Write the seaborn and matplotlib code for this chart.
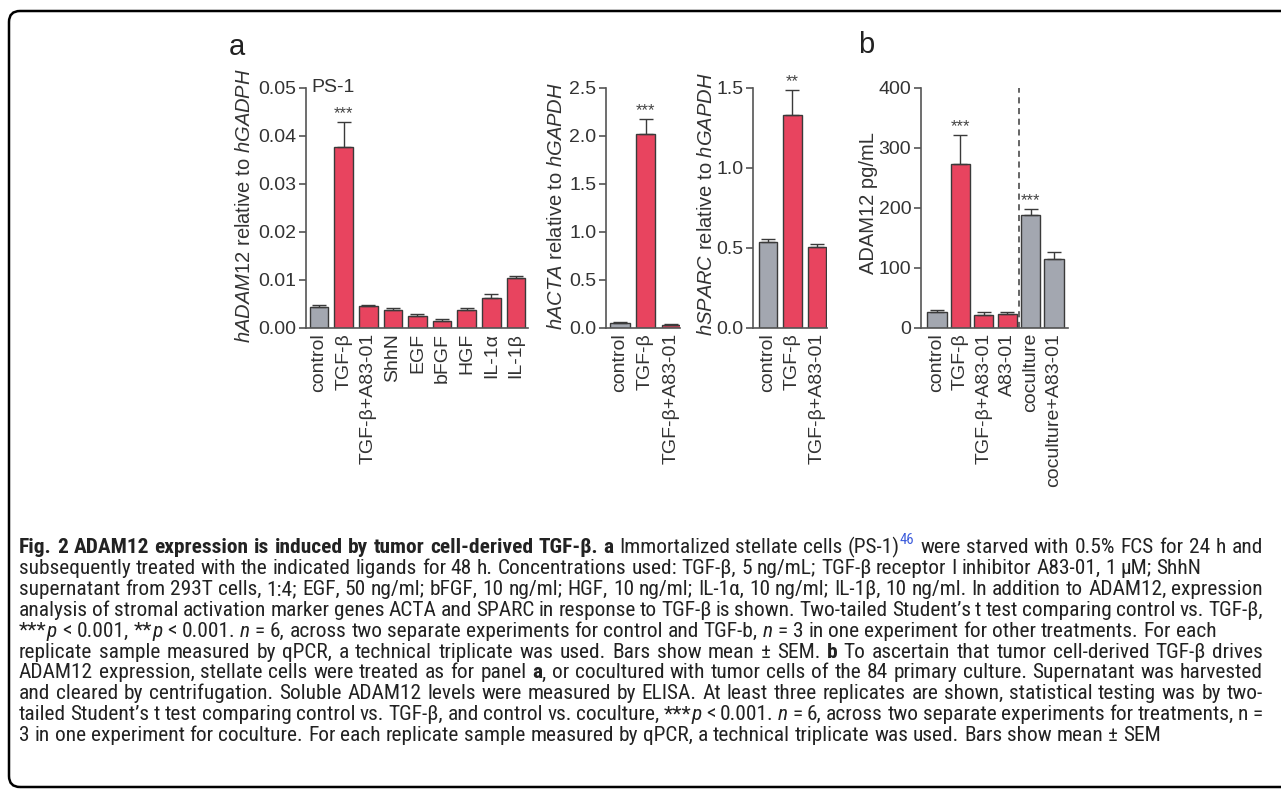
import numpy as np
import pandas as pd
import matplotlib
matplotlib.use("Agg")
import matplotlib.pyplot as plt
import seaborn as sns
from matplotlib.patches import FancyBboxPatch
from matplotlib.transforms import IdentityTransform
from matplotlib import font_manager

# ---------------- data ----------------
adam12_cats = ["control", "TGF-β", "TGF-β+A83-01", "ShhN", "EGF", "bFGF", "HGF", "IL-1α", "IL-1β"]
adam12_mean = [0.0042, 0.0377, 0.0044, 0.0036, 0.0023, 0.0013, 0.0036, 0.0062, 0.0103]
adam12_sem = [0.0004, 0.0052, 0.0003, 0.0004, 0.0005, 0.0004, 0.0004, 0.0008, 0.0004]
adam12_group = ["control", "treated", "treated", "treated", "treated", "treated", "treated", "treated", "treated"]
adam12_sig = ["", "***", "", "", "", "", "", "", ""]
adam12_ticks = [0.0, 0.01, 0.02, 0.03, 0.04, 0.05]
adam12_ticklabels = ["0.00", "0.01", "0.02", "0.03", "0.04", "0.05"]

acta_cats = ["control", "TGF-β", "TGF-β+A83-01"]
acta_mean = [0.05, 2.02, 0.028]
acta_sem = [0.008, 0.16, 0.005]
acta_group = ["control", "treated", "treated"]
acta_sig = ["", "***", ""]
acta_ticks = [0.0, 0.5, 1.0, 1.5, 2.0, 2.5]
acta_ticklabels = ["0.0", "0.5", "1.0", "1.5", "2.0", "2.5"]

sparc_cats = ["control", "TGF-β", "TGF-β+A83-01"]
sparc_mean = [0.538, 1.33, 0.502]
sparc_sem = [0.019, 0.16, 0.021]
sparc_group = ["control", "treated", "treated"]
sparc_sig = ["", "**", ""]
sparc_ticks = [0.0, 0.5, 1.0, 1.5]
sparc_ticklabels = ["0.0", "0.5", "1.0", "1.5"]

elisa_cats = ["control", "TGF-β", "TGF-β+A83-01", "A83-01", "coculture", "coculture+A83-01"]
elisa_mean = [25.6, 272.8, 21.0, 23.0, 188.6, 114.3]
elisa_sem = [4.0, 48.0, 5.5, 3.5, 10.0, 11.0]
elisa_group = ["control", "treated", "treated", "treated", "control", "control"]
elisa_sig = ["", "***", "", "", "***", ""]
elisa_ticks = [0, 100, 200, 300, 400]
elisa_ticklabels = ["0", "100", "200", "300", "400"]

caption_lines = [
    [("Fig. 2 ADAM12 expression is induced by tumor cell-derived TGF-β. a", "b"),
     (" Immortalized stellate cells (PS-1)", "r"), ("46", "sup"),
     (" were starved with 0.5% FCS for 24 h and", "r")],
    [("subsequently treated with the indicated ligands for 48 h. Concentrations used: TGF-β, 5 ng/mL; TGF-β receptor I inhibitor A83-01, 1 µM; ShhN", "r")],
    [("supernatant from 293T cells, 1:4; EGF, 50 ng/ml; bFGF, 10 ng/ml; HGF, 10 ng/ml; IL-1α, 10 ng/ml; IL-1β, 10 ng/ml. In addition to ADAM12, expression", "r")],
    [("analysis of stromal activation marker genes ACTA and SPARC in response to TGF-β is shown. Two-tailed Student’s t test comparing control vs. TGF-β,", "r")],
    [("***", "r"), ("p", "i"), (" < 0.001, **", "r"), ("p", "i"), (" < 0.001. ", "r"), ("n", "i"),
     (" = 6, across two separate experiments for control and TGF-b, ", "r"), ("n", "i"),
     (" = 3 in one experiment for other treatments. For each", "r")],
    [("replicate sample measured by qPCR, a technical triplicate was used. Bars show mean ± SEM. ", "r"), ("b", "b"),
     (" To ascertain that tumor cell-derived TGF-β drives", "r")],
    [("ADAM12 expression, stellate cells were treated as for panel ", "r"), ("a", "b"),
     (", or cocultured with tumor cells of the 84 primary culture. Supernatant was harvested", "r")],
    [("and cleared by centrifugation. Soluble ADAM12 levels were measured by ELISA. At least three replicates are shown, statistical testing was by two-", "r")],
    [("tailed Student’s t test comparing control vs. TGF-β, and control vs. coculture, ***", "r"), ("p", "i"),
     (" < 0.001. ", "r"), ("n", "i"), (" = 6, across two separate experiments for treatments, n =", "r")],
    [("3 in one experiment for coculture. For each replicate sample measured by qPCR, a technical triplicate was used. Bars show mean ± SEM", "r")],
]

# ---------------- style ----------------
W, H = 1281, 789
RED = "#E8445F"
GREY = "#A3A7B0"
EDGE = "#3a3a3a"
AX = "#555555"
TXT = "#333333"
palette = {"control": GREY, "treated": RED}

sns.set_style("white")
plt.rcParams["font.family"] = ["Liberation Sans", "DejaVu Sans"]
plt.rcParams["mathtext.fontset"] = "custom"
plt.rcParams["mathtext.rm"] = "Liberation Sans"
plt.rcParams["mathtext.it"] = "Liberation Sans:italic"
plt.rcParams["mathtext.bf"] = "Liberation Sans:bold"


def have_font(name):
    try:
        font_manager.findfont(font_manager.FontProperties(family=name), fallback_to_default=False)
        return True
    except Exception:
        return False


CAP_FAMILY = ["DejaVu Sans"]
for cand in ["Liberation Sans Narrow", "Roboto Condensed", "Open Sans Condensed", "Roboto", "Open Sans"]:
    if have_font(cand):
        CAP_FAMILY = [cand, "DejaVu Sans"]
        break

fig = plt.figure(figsize=(W / 100, H / 100), dpi=100)
fig.patch.set_facecolor("white")


def px_axes(left, right, top, bottom):
    return fig.add_axes([left / W, 1 - bottom / H, (right - left) / W, (bottom - top) / H])


def draw_panel(ax, cats, mean, sem, group, sig, ticks, ticklabels, width, xlim):
    df = pd.DataFrame({"cat": cats, "val": mean, "group": group})
    sns.barplot(data=df, x="cat", y="val", hue="group", palette=palette, order=cats,
                dodge=False, width=width, edgecolor=EDGE, linewidth=1.0, saturation=1,
                errorbar=None, legend=False, ax=ax, zorder=2)
    n = len(cats)
    ax.errorbar(np.arange(n), mean, yerr=[np.zeros(n), sem], fmt="none", ecolor=EDGE,
                elinewidth=1.0, capsize=5, capthick=1.0, zorder=3)
    for i, s in enumerate(sig):
        if s:
            ax.annotate(s, (i, mean[i] + sem[i]), xytext=(0, 6), textcoords="offset points",
                        ha="center", va="center", fontsize=12, color="#444444")
    ax.set_ylim(0, ticks[-1])
    ax.set_xlim(*xlim)
    ax.set_yticks(ticks)
    ax.set_yticklabels(ticklabels)
    ax.set_xticks(np.arange(n))
    ax.set_xticklabels(cats, rotation=90)
    ax.set_xlabel("")
    ax.set_ylabel("")
    sns.despine(ax=ax)
    for sp in ("left", "bottom"):
        ax.spines[sp].set_color(AX)
        ax.spines[sp].set_linewidth(1.2)
    ax.tick_params(axis="y", length=5, width=1.2, color=AX, pad=2, labelsize=14, labelcolor=TXT, left=True)
    ax.tick_params(axis="x", length=0, pad=4, labelsize=14, labelcolor=TXT)
    ax.set_facecolor("none")
    ax.patch.set_alpha(0)


TOP, BOT = 88, 327.5
ax1 = px_axes(306, 528, TOP, BOT)
draw_panel(ax1, adam12_cats, adam12_mean, adam12_sem, adam12_group, adam12_sig,
           adam12_ticks, adam12_ticklabels, 0.76, (-0.53, 8.49))
ax2 = px_axes(606, 680, TOP, BOT)
draw_panel(ax2, acta_cats, acta_mean, acta_sem, acta_group, acta_sig,
           acta_ticks, acta_ticklabels, 0.75, (-0.55, 2.35))
ax3 = px_axes(753, 827, TOP, BOT)
draw_panel(ax3, sparc_cats, sparc_mean, sparc_sem, sparc_group, sparc_sig,
           sparc_ticks, sparc_ticklabels, 0.75, (-0.61, 2.41))
ax4 = px_axes(921, 1068, TOP, BOT)
draw_panel(ax4, elisa_cats, elisa_mean, elisa_sem, elisa_group, elisa_sig,
           elisa_ticks, elisa_ticklabels, 0.82, (-0.68, 5.6))
ax4.plot([3.5, 3.5], [0, elisa_ticks[-1]], ls=(0, (4, 3)), color=EDGE, lw=1.1, zorder=1)

# "PS-1" annotation next to top tick
ax1.text(0.025, 1.0, "PS-1", transform=ax1.transAxes, ha="left", va="center", fontsize=14, color=TXT)


def ftext(x, y, s, **kw):
    return fig.text(x / W, 1 - y / H, s, **kw)


# y labels
ftext(245, 206, r"$\mathit{hADAM12}$ relative to $\mathit{hGADPH}$", rotation=90, ha="center", va="center", fontsize=14.5, color=TXT)
ftext(556, 206, r"$\mathit{hACTA}$ relative to $\mathit{hGAPDH}$", rotation=90, ha="center", va="center", fontsize=14.5, color=TXT)
ftext(707, 204, r"$\mathit{hSPARC}$ relative to $\mathit{hGAPDH}$", rotation=90, ha="center", va="center", fontsize=14.5, color=TXT)
ftext(868, 203, "ADAM12 pg/mL", rotation=90, ha="center", va="center", fontsize=14.5, color=TXT)

# panel letters
ftext(237, 55, "a", ha="center", va="baseline", fontsize=21, color="#222222")
ftext(866, 53, "b", ha="center", va="baseline", fontsize=21, color="#222222")

# border
border = FancyBboxPatch((9, 2), 1300, 776, boxstyle="round,pad=0,rounding_size=11",
                        transform=IdentityTransform(), fill=False, ec="black", lw=1.8)
fig.add_artist(border)

# ---------------- caption ----------------
fig.canvas.draw()
renderer = fig.canvas.get_renderer()


def style_kw(style, size):
    kw = dict(family=CAP_FAMILY, fontsize=size, color="#222222")
    if style == "b":
        kw["fontweight"] = "bold"
    elif style == "i":
        kw["fontstyle"] = "italic"
    elif style == "sup":
        kw["fontsize"] = size * 0.68
        kw["color"] = "#3b5bdb"
    return kw


def tokens(runs):
    items = []
    pending = False
    for text, style in runs:
        parts = text.split(" ")
        for i, p in enumerate(parts):
            if i > 0:
                pending = True
            if p == "":
                continue
            items.append((p, style, pending))
            pending = False
    return items


def measure(s, style, size):
    t = fig.text(0, 0, s, **style_kw(style, size))
    w = t.get_window_extent(renderer=renderer).width
    t.remove()
    return w


def space_width(size):
    return measure("n n", "r", size) - measure("nn", "r", size)


def natural_width(items, size):
    sw = space_width(size)
    w = 0
    for p, st, sp in items:
        if sp:
            w += sw
        w += measure(p, st, size)
    return w


X0, X1 = 19, 1263
target = X1 - X0
base = 12.0
w_line1 = natural_width(tokens(caption_lines[0]), base)
cap_size = base * target / w_line1 * 0.99
ragged = {1, 4, len(caption_lines) - 1}

Y0, DY = 553, 20.9
for k, runs in enumerate(caption_lines):
    items = tokens(runs)
    sw = space_width(cap_size)
    widths = [measure(p, st, cap_size) for p, st, sp in items]
    nat = sum(widths) + sw * sum(1 for it in items if it[2])
    nsp = sum(1 for it in items if it[2])
    gap = sw
    if k not in ragged and nsp > 0:
        gap = sw + (target - nat) / nsp
    x = X0
    ybase = Y0 + k * DY
    for (p, st, sp), w in zip(items, widths):
        if sp:
            x += gap
        y = ybase - (cap_size * 0.42 * 100 / 72 if st == "sup" else 0)
        ftext(x, y, p, ha="left", va="baseline", **style_kw(st, cap_size))
        x += w

fig.savefig("out.png", dpi=100, facecolor="white")
